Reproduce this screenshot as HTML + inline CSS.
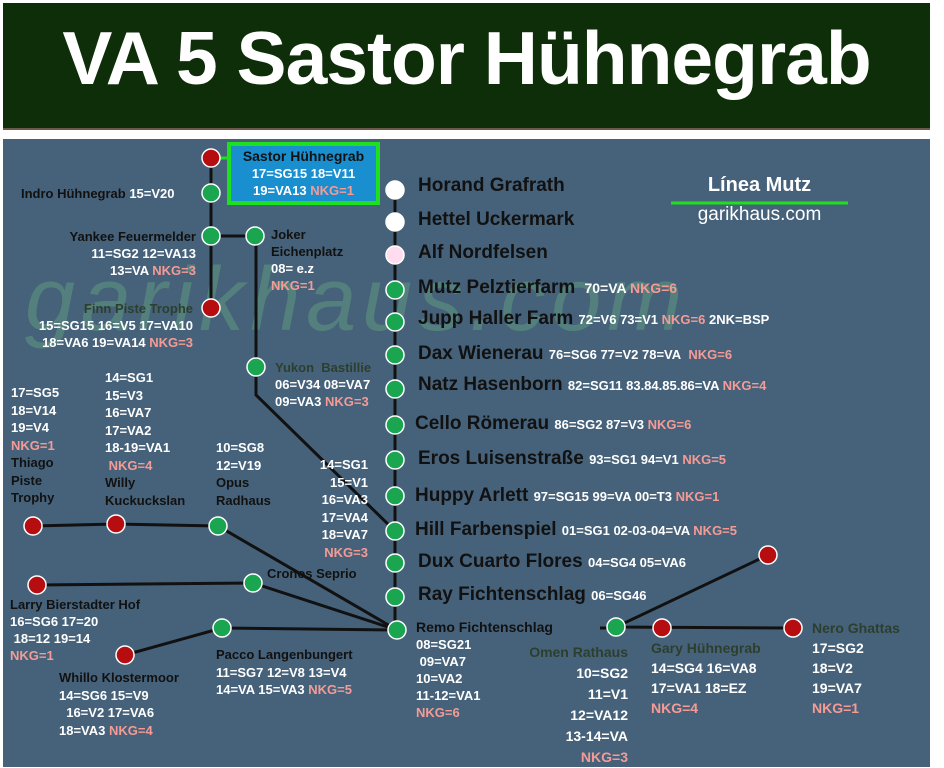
<!DOCTYPE html>
<html><head><meta charset="utf-8"><style>
body{margin:0;width:944px;height:767px;background:#fff;position:relative;overflow:hidden;font-family:"Liberation Sans",Arial,sans-serif;font-weight:bold}
.hd{position:absolute;left:3px;top:3px;width:927px;height:125px;background:#0d2e08;border-bottom:2px solid #6b5a4a}
.hd div{position:absolute;left:0;width:100%;top:12px;text-align:center;color:#fff;font-size:75px;letter-spacing:-1px}
.pn{position:absolute;left:3px;top:139px;width:927px;height:628px;background:#46627a}
.t{position:absolute;white-space:nowrap;font-size:13px;color:#fff;line-height:18px}
.k{color:#111}
.r{color:#f59b95}
.g{color:#2c3f2e}
.big{font-size:19px;color:#111}
svg{position:absolute;left:0;top:0}
</style></head><body>
<div class="hd"><div>VA 5 Sastor Hühnegrab</div></div>
<div class="pn"></div>
<div class="t" style="left:25px;top:250px;font-size:90px;color:#5f9a80;opacity:.55;font-style:italic;font-weight:normal;letter-spacing:6px;line-height:100px">garikhaus.com</div>
<svg width="944" height="767">
<g stroke="#111" stroke-width="3" fill="none">
<line x1="211" y1="158" x2="211" y2="308"/>
<polyline points="211,236 256,236 256,395 395,531"/>
<line x1="395" y1="190" x2="395" y2="630"/>
<polyline points="33,526 116,524 218,526 397,630"/>
<polyline points="37,585 253,583 397,630"/>
<polyline points="125,655 222,628 397,630"/>
<line x1="600" y1="628" x2="608" y2="628"/>
<polyline points="768,555 616,627 793,628"/>
</g>
<line x1="211" y1="158" x2="235" y2="158" stroke="#1fe01f" stroke-width="3"/>
<g stroke="#fff" stroke-width="1.5">
<g fill="#b50d10">
<circle cx="211" cy="158" r="9"/><circle cx="211" cy="308" r="9"/><circle cx="33" cy="526" r="9"/><circle cx="116" cy="524" r="9"/><circle cx="37" cy="585" r="9"/><circle cx="125" cy="655" r="9"/><circle cx="768" cy="555" r="9"/><circle cx="662" cy="628" r="9"/><circle cx="793" cy="628" r="9"/>
</g>
<g fill="#1aa550">
<circle cx="211" cy="193" r="9"/><circle cx="211" cy="236" r="9"/><circle cx="255" cy="236" r="9"/><circle cx="256" cy="367" r="9"/><circle cx="218" cy="526" r="9"/><circle cx="253" cy="583" r="9"/><circle cx="222" cy="628" r="9"/><circle cx="616" cy="627" r="9"/>
<circle cx="395" cy="290" r="9"/><circle cx="395" cy="322" r="9"/><circle cx="395" cy="355" r="9"/><circle cx="395" cy="389" r="9"/><circle cx="395" cy="425" r="9"/><circle cx="395" cy="460" r="9"/><circle cx="395" cy="496" r="9"/><circle cx="395" cy="531" r="9"/><circle cx="395" cy="563" r="9"/><circle cx="395" cy="597" r="9"/><circle cx="397" cy="630" r="9"/>
</g>
<circle cx="395" cy="190" r="9" fill="#fff"/><circle cx="395" cy="222" r="9" fill="#fff"/><circle cx="395" cy="255" r="9" fill="#fde"/>
</g>
<line x1="671" y1="203" x2="848" y2="203" stroke="#1fe01f" stroke-width="3"/>
</svg>
<div class="t" style="left:227px;top:142px;width:145px;height:53px;background:#1a8fd0;border:4px solid #1fe01f;text-align:center;font-size:13px;line-height:17px;padding:2px 0 0"><span class="k" style="font-size:14px">Sastor Hühnegrab</span><br>17=SG15 18=V11<br>19=VA13 <span class="r">NKG=1</span></div>
<div class="t" style="left:21px;top:185px"><span class="k">Indro Hühnegrab</span> 15=V20</div>
<div class="t" style="left:53px;top:228px;text-align:right;width:143px;line-height:17px"><span class="k">Yankee Feuermelder</span><br>11=SG2 12=VA13<br>13=VA <span class="r">NKG=3</span></div>
<div class="t" style="left:271px;top:226px;line-height:17px"><span class="k">Joker<br>Eichenplatz</span><br>08= e.z<br><span class="r">NKG=1</span></div>
<div class="t" style="left:18px;top:300px;text-align:right;width:175px;line-height:17px"><span class="g">Finn Piste Trophe</span><br>15=SG15 16=V5 17=VA10<br>18=VA6 19=VA14 <span class="r">NKG=3</span></div>
<div class="t" style="left:275px;top:359px;line-height:17px"><span class="g">Yukon&nbsp; Bastillie</span><br>06=V34 08=VA7<br>09=VA3 <span class="r">NKG=3</span></div>
<div class="t" style="left:11px;top:384px;line-height:17.5px">17=SG5<br>18=V14<br>19=V4<br><span class="r">NKG=1</span><br><span class="k">Thiago<br>Piste<br>Trophy</span></div>
<div class="t" style="left:105px;top:369px;line-height:17.5px">14=SG1<br>15=V3<br>16=VA7<br>17=VA2<br>18-19=VA1<br>&nbsp;<span class="r">NKG=4</span><br><span class="k">Willy<br>Kuckuckslan</span></div>
<div class="t" style="left:216px;top:439px;line-height:17.5px">10=SG8<br>12=V19<br><span class="k">Opus<br>Radhaus</span></div>
<div class="t" style="left:300px;top:456px;width:68px;text-align:right;line-height:17.5px">14=SG1<br>15=V1<br>16=VA3<br>17=VA4<br>18=VA7<br><span class="r">NKG=3</span></div>
<div class="t k" style="left:267px;top:565px">Cronos Seprio</div>
<div class="t" style="left:10px;top:596px;line-height:17px"><span class="k">Larry Bierstadter Hof</span><br>16=SG6 17=20<br>&nbsp;18=12 19=14<br><span class="r">NKG=1</span></div>
<div class="t" style="left:59px;top:669px;line-height:17.5px"><span class="k">Whillo Klostermoor</span><br>14=SG6 15=V9<br>&nbsp; 16=V2 17=VA6<br>18=VA3 <span class="r">NKG=4</span></div>
<div class="t" style="left:216px;top:646px;line-height:17.5px"><span class="k">Pacco Langenbungert</span><br>11=SG7 12=V8 13=V4<br>14=VA 15=VA3 <span class="r">NKG=5</span></div>
<div class="t big" style="left:418px;top:177px">Horand Grafrath</div>
<div class="t big" style="left:418px;top:211px">Hettel Uckermark</div>
<div class="t big" style="left:418px;top:244px">Alf Nordfelsen</div>
<div class="t big" style="left:418px;top:279px">Mutz Pelztierfarm <span style="font-size:14px;color:#fff">&nbsp;70=VA <span class="r">NKG=6</span></span></div>
<div class="t big" style="left:418px;top:310px">Jupp Haller Farm <span style="font-size:13px;color:#fff">72=V6 73=V1 <span class="r">NKG=6</span> 2NK=BSP</span></div>
<div class="t big" style="left:418px;top:345px">Dax Wienerau <span style="font-size:13px;color:#fff">76=SG6 77=V2 78=VA&nbsp; <span class="r">NKG=6</span></span></div>
<div class="t big" style="left:418px;top:376px">Natz Hasenborn <span style="font-size:13px;color:#fff">82=SG11 83.84.85.86=VA <span class="r">NKG=4</span></span></div>
<div class="t big" style="left:415px;top:415px">Cello Römerau <span style="font-size:13px;color:#fff">86=SG2 87=V3 <span class="r">NKG=6</span></span></div>
<div class="t big" style="left:418px;top:450px">Eros Luisenstraße <span style="font-size:13px;color:#fff">93=SG1 94=V1 <span class="r">NKG=5</span></span></div>
<div class="t big" style="left:415px;top:487px">Huppy Arlett <span style="font-size:13px;color:#fff">97=SG15 99=VA 00=T3 <span class="r">NKG=1</span></span></div>
<div class="t big" style="left:415px;top:521px">Hill Farbenspiel <span style="font-size:13px;color:#fff">01=SG1 02-03-04=VA <span class="r">NKG=5</span></span></div>
<div class="t big" style="left:418px;top:553px">Dux Cuarto Flores <span style="font-size:13px;color:#fff">04=SG4 05=VA6</span></div>
<div class="t big" style="left:418px;top:586px">Ray Fichtenschlag <span style="font-size:13px;color:#fff">06=SG46</span></div>
<div class="t" style="left:416px;top:619px;line-height:17px"><span class="k" style="font-size:14px">Remo Fichtenschlag</span><br>08=SG21<br>&nbsp;09=VA7<br>10=VA2<br>11-12=VA1<br><span class="r">NKG=6</span></div>
<div class="t" style="left:505px;top:642px;width:123px;text-align:right;line-height:21px;font-size:14px"><span class="g">Omen Rathaus</span><br>10=SG2<br>11=V1<br>12=VA12<br>13-14=VA<br><span class="r">NKG=3</span></div>
<div class="t" style="left:651px;top:638px;line-height:20px;font-size:14px"><span class="g">Gary Hühnegrab</span><br>14=SG4 16=VA8<br>17=VA1 18=EZ<br><span class="r">NKG=4</span></div>
<div class="t" style="left:812px;top:618px;line-height:20px;font-size:14px"><span class="g">Nero Ghattas</span><br>17=SG2<br>18=V2<br>19=VA7<br><span class="r">NKG=1</span></div>
<div class="t" style="left:671px;top:173px;width:177px;text-align:center;font-size:20px;line-height:24px">Línea Mutz</div>
<div class="t" style="left:671px;top:204px;width:177px;text-align:center;font-size:19px;font-weight:normal;line-height:22px">garikhaus.com</div>
</body></html>
